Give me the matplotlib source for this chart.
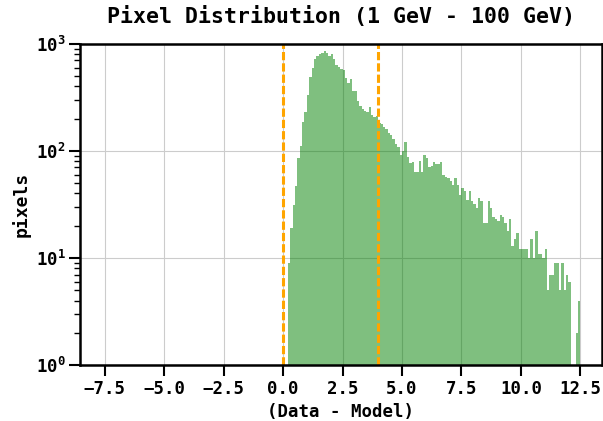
import numpy as np
import matplotlib
matplotlib.use('Agg')
import matplotlib.pyplot as plt

# histogram bins (width 0.1) and counts per bin
bin_edges = np.round(np.arange(0.2, 12.51, 0.1), 2)
counts = [
    9, 19, 31, 47, 85, 112, 188, 230, 329, 489,
    597, 724, 761, 795, 819, 855, 819, 761, 795, 724,
    627, 608, 584, 563, 478, 430, 471, 366, 360, 295,
    265, 247, 238, 230, 259, 218, 209, 213, 181, 178,
    166, 160, 146, 140, 129, 116, 108, 92, 100, 120,
    88, 77, 79, 64, 64, 81, 64, 92, 85, 71,
    72, 79, 76, 76, 79, 60, 57, 56, 52, 48,
    56, 48, 39, 45, 42, 35, 42, 34, 32, 29,
    36, 34, 21, 21, 34, 29, 24, 23, 22, 25,
    24, 21, 18, 23, 13, 15, 17, 12, 12, 12,
    12, 10, 15, 10, 18, 11, 11, 10, 12, 5,
    7, 7, 9, 9, 5, 9, 5, 7, 6, 0,
    0, 2, 4,
]
cut_lines = [0.0, 4.0]

title = 'Pixel Distribution (1 GeV - 100 GeV)'
xlabel = '(Data - Model)'
ylabel = 'pixels'

plt.rcParams['font.family'] = 'DejaVu Sans Mono'
plt.rcParams['font.weight'] = 'bold'

fig = plt.figure(figsize=(6.03, 4.21), dpi=100)
ax = fig.add_axes([0.133, 0.133, 0.865, 0.763])

centers = (bin_edges[:-1] + bin_edges[1:]) / 2
ax.hist(centers, bins=bin_edges, weights=counts, color='g', alpha=0.5)

for xc in cut_lines:
    ax.axvline(xc, color='orange', linestyle='--', linewidth=2.2, dashes=(2.7, 1.0))

ax.set_yscale('log')
ax.set_ylim(1, 1000)
ax.set_xlim(-8.53, 13.4)
ax.set_xticks([-7.5, -5.0, -2.5, 0.0, 2.5, 5.0, 7.5, 10.0, 12.5])

ax.grid(True, which='major', color='#cccccc', linewidth=0.8)
ax.set_axisbelow(True)

for s in ax.spines.values():
    s.set_linewidth(1.8)

ax.tick_params(axis='both', which='major', labelsize=12.5, length=8, width=1.5, pad=2.5)
ax.tick_params(axis='y', which='minor', length=4, width=1.0)
for lbl in ax.get_xticklabels() + ax.get_yticklabels():
    lbl.set_fontweight('bold')

ax.set_title(title, fontsize=15.5, fontweight='bold', pad=15)
ax.set_xlabel(xlabel, fontsize=12.5, fontweight='bold', labelpad=4)
ax.set_ylabel(ylabel, fontsize=13, fontweight='bold')

fig.savefig('out.png', dpi=100)
